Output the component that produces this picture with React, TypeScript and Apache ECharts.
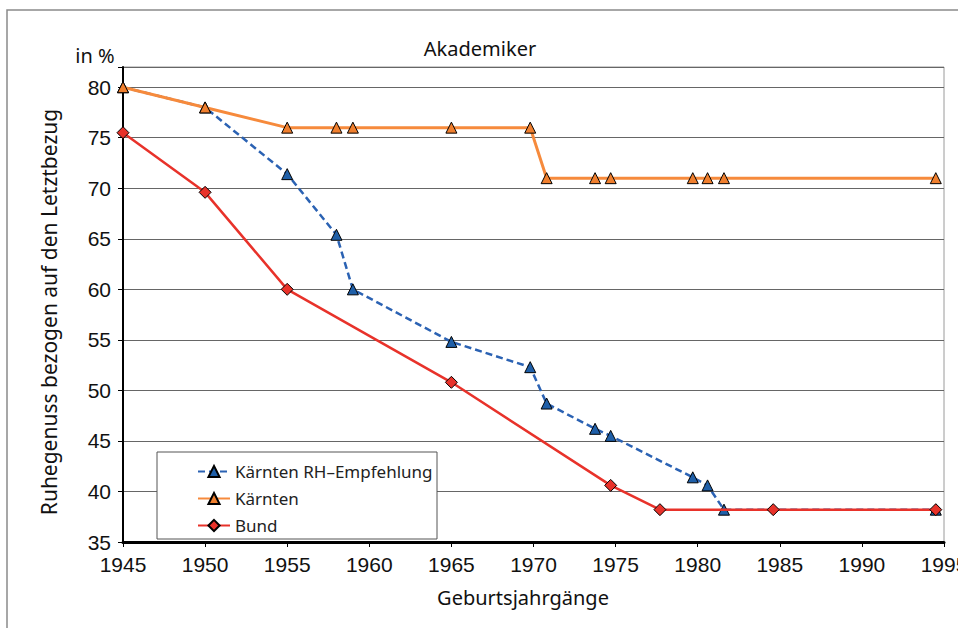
import React, { useEffect, useRef } from "react";
import * as echarts from "echarts";

const xTicks = [1945, 1950, 1955, 1960, 1965, 1970, 1975, 1980, 1985, 1990, 1995];
const yTicks = [35, 40, 45, 50, 55, 60, 65, 70, 75, 80];

const blueYears = [1945, 1950, 1955, 1958, 1959, 1965, 1969.8, 1970.8, 1973.75, 1974.7, 1979.7, 1980.6, 1981.6, 1994.5];
const blueValues = [80, 78, 71.4, 65.4, 60, 54.8, 52.3, 48.7, 46.2, 45.5, 41.4, 40.6, 38.2, 38.2];

const orangeYears = [1945, 1950, 1955, 1958, 1959, 1965, 1969.8, 1970.8, 1973.75, 1974.7, 1979.7, 1980.6, 1981.6, 1994.5];
const orangeValues = [80, 78, 76, 76, 76, 76, 76, 71, 71, 71, 71, 71, 71, 71];

const redYears = [1945, 1950, 1955, 1965, 1974.7, 1977.7, 1984.6, 1994.5];
const redValues = [75.5, 69.6, 60, 50.8, 40.6, 38.2, 38.2, 38.2];

const seriesNames = ["Kärnten RH–Empfehlung", "Kärnten", "Bund"];

const pairs = (xs: number[], ys: number[]) => xs.map((x, i) => [x, ys[i]]);

const SANS = "'Noto Sans', 'Open Sans', sans-serif";
const TICKF = "'Liberation Sans', Arial, sans-serif";

export default function App() {
  const ref = useRef<HTMLDivElement>(null);
  useEffect(() => {
    if (!ref.current) return;
    const chart = echarts.init(ref.current, null, { renderer: "svg" });
    chart.setOption({
      animation: false,
      backgroundColor: "#ffffff",
      grid: {
        left: 123, top: 67, right: 14, bottom: 86,
        show: true, borderColor: "#9a9a9a", borderWidth: 1,
        containLabel: false, outerBoundsMode: "none",
      },
      xAxis: {
        type: "value",
        min: xTicks[0],
        max: xTicks[xTicks.length - 1],
        interval: 5,
        axisLine: { onZero: false, lineStyle: { color: "#000", width: 3 } },
        axisTick: { show: true, inside: false, length: 5, lineStyle: { color: "#000", width: 1 } },
        axisLabel: {
          fontFamily: TICKF, fontSize: 21, color: "#111", margin: 12,
          formatter: (v: number) => String(v),
        },
        splitLine: { show: false },
      },
      yAxis: {
        type: "value",
        min: yTicks[0],
        max: 82,
        interval: 5,
        axisLine: { show: true, lineStyle: { color: "#000", width: 2 } },
        axisTick: { show: true, inside: false, length: 5, lineStyle: { color: "#000", width: 1 } },
        axisLabel: {
          fontFamily: TICKF,
          fontSize: 21,
          color: "#111",
          margin: 12,
          formatter: (v: number) => (yTicks.includes(v) ? String(v) : ""),
        },
        splitLine: { show: true, lineStyle: { color: "#666", width: 1 } },
      },
      legend: {
        orient: "vertical",
        left: 197,
        top: 463,
        padding: 0,
        itemWidth: 32,
        itemHeight: 14,
        itemGap: 10,
        data: seriesNames,
        textStyle: { fontFamily: SANS, fontSize: 17, color: "#222" },
        z: 5,
      },
      graphic: [
        {
          type: "rect",
          z: -10,
          silent: true,
          shape: { x: 7, y: 10, width: 1000, height: 700 },
          style: { fill: "none", stroke: "#8a8a8a", lineWidth: 1.5 },
        },
        {
          type: "rect",
          z: 4,
          silent: true,
          shape: { x: 157, y: 452, width: 280, height: 87 },
          style: { fill: "#fff", stroke: "#555", lineWidth: 1 },
        },
        {
          type: "text",
          x: 480,
          y: 48,
          style: { text: "Akademiker", fontFamily: SANS, fontSize: 20, fill: "#111", align: "center", verticalAlign: "middle", textAlign: "center", textVerticalAlign: "middle" },
        },
        {
          type: "text",
          x: 95,
          y: 55,
          style: { text: "in %", fontFamily: SANS, fontSize: 20, fill: "#111", align: "center", verticalAlign: "middle", textAlign: "center", textVerticalAlign: "middle" },
        },
        {
          type: "text",
          x: 49,
          y: 312,
          rotation: Math.PI / 2,
          style: { text: "Ruhegenuss bezogen auf den Letztbezug", fontFamily: SANS, fontSize: 21, fill: "#111", align: "center", verticalAlign: "middle", textAlign: "center", textVerticalAlign: "middle" },
        },
        {
          type: "text",
          x: 523,
          y: 597,
          style: { text: "Geburtsjahrgänge", fontFamily: SANS, fontSize: 20, fill: "#111", align: "center", verticalAlign: "middle", textAlign: "center", textVerticalAlign: "middle" },
        },
      ],
      series: [
        {
          name: seriesNames[0],
          type: "line",
          data: pairs(blueYears, blueValues),
          clip: false,
          symbol: "triangle",
          symbolSize: 11,
          lineStyle: { color: "#2b62b3", width: 2.5, type: [7, 4] },
          itemStyle: { color: "#1f5fa8", borderColor: "#000", borderWidth: 1 },
          z: 2,
        },
        {
          name: seriesNames[1],
          type: "line",
          data: pairs(orangeYears, orangeValues),
          clip: false,
          symbol: "triangle",
          symbolSize: 11,
          lineStyle: { color: "#f68a3c", width: 3 },
          itemStyle: { color: "#f07f2e", borderColor: "#000", borderWidth: 1 },
          z: 3,
        },
        {
          name: seriesNames[2],
          type: "line",
          data: pairs(redYears, redValues),
          clip: false,
          symbol: "diamond",
          symbolSize: 12,
          lineStyle: { color: "#e8322a", width: 2.5 },
          itemStyle: { color: "#e8322a", borderColor: "#000", borderWidth: 1 },
          z: 3.5,
        },
      ],
    });
    return () => chart.dispose();
  }, []);
  return <div ref={ref} style={{ position: "fixed", left: 0, top: 0, width: 958, height: 628 }} />;
}
